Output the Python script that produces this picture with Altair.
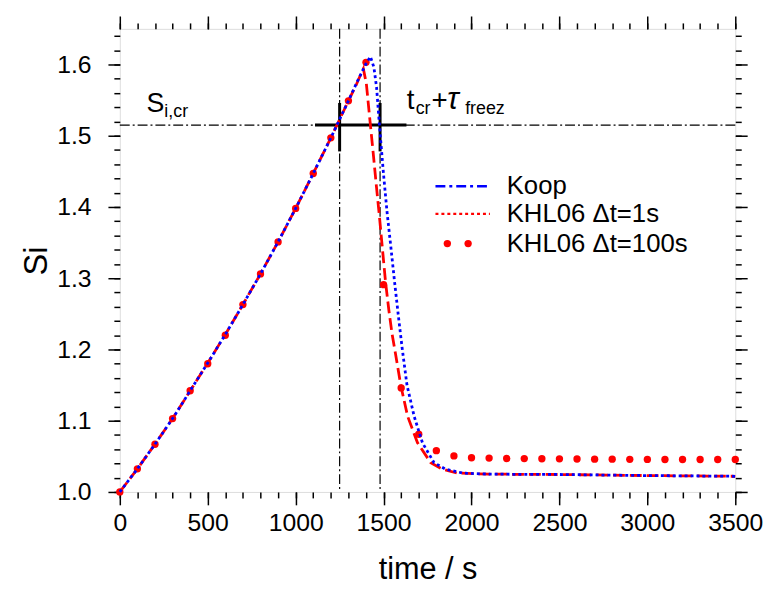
import altair as alt
import pandas as pd

# ---------------- data ----------------
rise_t = [0, 100, 200, 300, 400, 500, 600, 700, 800, 900, 1000, 1100, 1200, 1300]
rise_si = [1.0, 1.0325, 1.067, 1.103, 1.142, 1.181, 1.221, 1.263, 1.306, 1.351,
           1.398, 1.447, 1.497, 1.549]

koop_tail_t = [1350, 1400, 1425, 1445, 1460, 1477, 1500, 1520, 1543, 1561, 1585,
               1605, 1633, 1674, 1721, 1787, 1852, 1950, 2100, 2500, 3000, 3500]
koop_tail_si = [1.576, 1.601, 1.611, 1.596, 1.568, 1.513, 1.445, 1.392, 1.340, 1.298,
                1.245, 1.203, 1.150, 1.106, 1.069, 1.041, 1.032, 1.0265, 1.025,
                1.0245, 1.023, 1.022]

khl1_tail_t = [1340, 1370, 1385, 1402, 1421, 1440, 1458, 1477, 1492, 1511, 1530,
               1548, 1567, 1599, 1637, 1693, 1768, 1834, 1918, 2100, 2500, 3000, 3500]
khl1_tail_si = [1.569, 1.586, 1.594, 1.573, 1.525, 1.478, 1.432, 1.385, 1.345, 1.295,
                1.255, 1.222, 1.195, 1.148, 1.106, 1.069, 1.041, 1.032, 1.0265,
                1.025, 1.0245, 1.023, 1.022]

dots_t = list(range(0, 3501, 100))
dots_si = [1.0, 1.0325, 1.067, 1.103, 1.142, 1.180, 1.220, 1.263, 1.306, 1.351,
           1.398, 1.447, 1.497, 1.549, 1.603, 1.291, 1.146, 1.081, 1.058, 1.0506,
           1.048, 1.0475, 1.047, 1.0468, 1.0466, 1.0465, 1.0463, 1.046, 1.046,
           1.0458, 1.0457, 1.0456, 1.0455, 1.0455, 1.0455, 1.0455]

si_cr = [1.515]
t_marks = [1250, 1480]
cross_t = [1110, 1630]
cross_si = [1.478, 1.546]

x_major = list(range(0, 3501, 500))
x_minor = list(range(0, 3501, 100))
y_major = [1.0, 1.1, 1.2, 1.3, 1.4, 1.5, 1.6]
y_minor = [round(1.0 + 0.02 * i, 2) for i in range(33)]

legend_labels = ["Koop", "KHL06 \u0394t=1s", "KHL06 \u0394t=100s"]

# ---------------- frames ----------------
koop = pd.DataFrame({"t": rise_t + koop_tail_t, "si": rise_si + koop_tail_si})
khl1 = pd.DataFrame({"t": rise_t + khl1_tail_t, "si": rise_si + khl1_tail_si})
dots = pd.DataFrame({"t": dots_t, "si": dots_si})
one = pd.DataFrame({"a": [0]})

FONT = "Liberation Sans"
W, H = 622, 468
xs = alt.Scale(domain=[0, 3500], nice=False, zero=False)
ys = alt.Scale(domain=[1.0, 1.65], nice=False, zero=False)


def X(axis):
    return alt.X("t:Q", scale=xs, axis=axis)


def Y(axis):
    return alt.Y("si:Q", scale=ys, axis=axis)


tick_common = dict(domain=False, grid=False, tickColor="black", tickWidth=1.5)
lab_common = dict(labelFontSize=25, labelFont=FONT, labelColor="black",
                  labelFlush=False, labelOverlap=False, labelBound=False)

ax_xb = alt.Axis(orient="bottom", values=x_major, tickSize=13, format="d",
                 labelPadding=6, title="time / s", titleFontSize=31, titleFont=FONT,
                 titleFontWeight="normal", titleColor="black", titlePadding=19,
                 **lab_common, **tick_common)
ax_yl = alt.Axis(orient="left", values=y_major, tickSize=12, format=".1f",
                 labelPadding=17, title="Si", titleFontSize=33, titleFont=FONT,
                 titleFontWeight="normal", titleColor="black", titlePadding=3,
                 **lab_common, **tick_common)
ax_xb_min = alt.Axis(orient="bottom", values=x_minor, tickSize=6, labels=False,
                     title=None, **tick_common)
ax_yl_min = alt.Axis(orient="left", values=y_minor, tickSize=6, labels=False,
                     title=None, **tick_common)
ax_xt = alt.Axis(orient="top", values=x_major, tickSize=13, labels=False,
                 title=None, **tick_common)
ax_yr = alt.Axis(orient="right", values=y_major, tickSize=12, labels=False,
                 title=None, **tick_common)
ax_xt_min = alt.Axis(orient="top", values=x_minor, tickSize=6, labels=False,
                     title=None, **tick_common)
ax_yr_min = alt.Axis(orient="right", values=y_minor, tickSize=6, labels=False,
                     title=None, **tick_common)

# ---------------- layers ----------------
dashdot = [10, 3, 2, 3]

hline = alt.Chart(pd.DataFrame({"si": si_cr})).mark_rule(
    color="black", strokeWidth=1.2, strokeDash=dashdot).encode(y=Y(None))
vlines = alt.Chart(pd.DataFrame({"t": t_marks})).mark_rule(
    color="black", strokeWidth=1.2, strokeDash=dashdot).encode(x=X(None))
cross_h = alt.Chart(pd.DataFrame({"t": [cross_t[0]], "t2": [cross_t[1]], "si": si_cr})
                    ).mark_rule(color="black", strokeWidth=3).encode(
    x=X(None), x2="t2:Q", y=Y(None))
cross_v = alt.Chart(pd.DataFrame({"t": t_marks, "si": [cross_si[0]] * 2,
                                  "si2": [cross_si[1]] * 2})
                    ).mark_rule(color="black", strokeWidth=3).encode(
    x=X(None), y=Y(None), y2="si2:Q")

dots_layer = alt.Chart(dots).mark_circle(color="#ff0000", opacity=1, size=55).encode(
    x=X(None), y=Y(None))
red_line = alt.Chart(khl1).mark_line(color="#ff0000", strokeWidth=2.8,
                                     strokeDash=[12, 5]).encode(
    x=X(None), y=Y(None), order="t:Q")
blue_line = alt.Chart(koop).mark_line(color="#0000ff", strokeWidth=2.8,
                                      strokeDash=[3, 3]).encode(
    x=X(ax_xb), y=Y(ax_yl), order="t:Q")

inv1 = alt.Chart(dots).mark_point(opacity=0).encode(x=X(ax_xb_min), y=Y(ax_yl_min))
inv2 = alt.Chart(dots).mark_point(opacity=0).encode(x=X(ax_xt), y=Y(ax_yr))
inv3 = alt.Chart(dots).mark_point(opacity=0).encode(x=X(ax_xt_min), y=Y(ax_yr_min))

# legend (pixel positions within the plot area)
leg_x0, leg_x1, leg_tx = 319, 374, 391
leg_y = [159, 187, 217]
leg = []
leg.append(alt.Chart(one).mark_rule(color="#0000ff", strokeWidth=2.4,
                                    strokeDash=[10, 4, 3, 4]).encode(
    x=alt.value(leg_x0), x2=alt.value(leg_x1), y=alt.value(leg_y[0])))
leg.append(alt.Chart(one).mark_rule(color="#ff0000", strokeWidth=2.4,
                                    strokeDash=[3, 3]).encode(
    x=alt.value(leg_x0), x2=alt.value(leg_x1), y=alt.value(leg_y[1])))
for dx in (331, 352):
    leg.append(alt.Chart(one).mark_circle(color="#ff0000", opacity=1, size=55).encode(
        x=alt.value(dx), y=alt.value(leg_y[2])))
for lab, yy in zip(legend_labels, leg_y):
    leg.append(alt.Chart(one).mark_text(text=lab, font=FONT, fontSize=26, align="left",
                                        baseline="middle", color="black").encode(
        x=alt.value(leg_tx), y=alt.value(yy)))


def txt(s, x, y, size, style="normal"):
    return alt.Chart(one).mark_text(text=s, font=FONT, fontSize=size, align="left",
                                    baseline="alphabetic", color="black",
                                    fontStyle=style).encode(
        x=alt.value(x), y=alt.value(y))


ann = [
    txt("S", 27, 84, 27),
    txt("i,cr", 45, 89, 18),
    txt("t", 290, 81, 28),
    txt("cr", 299, 86, 18),
    txt("+", 315, 81, 28),
    txt("\u03c4", 331, 81, 31, "italic"),
    txt("freez", 349, 86, 18),
]

chart = alt.layer(
    hline, vlines, cross_h, cross_v, dots_layer, red_line, blue_line,
    inv1, inv2, inv3, *leg, *ann
).resolve_axis(x="independent", y="independent").properties(
    width=W, height=H,
    autosize=alt.AutoSizeParams(type="none"),
    padding={"left": 113, "top": 18, "right": 28, "bottom": 96},
).configure_view(stroke="black", strokeWidth=2).configure(background="white")

chart.save("out.html", embed_options={"renderer": "svg", "actions": False})
